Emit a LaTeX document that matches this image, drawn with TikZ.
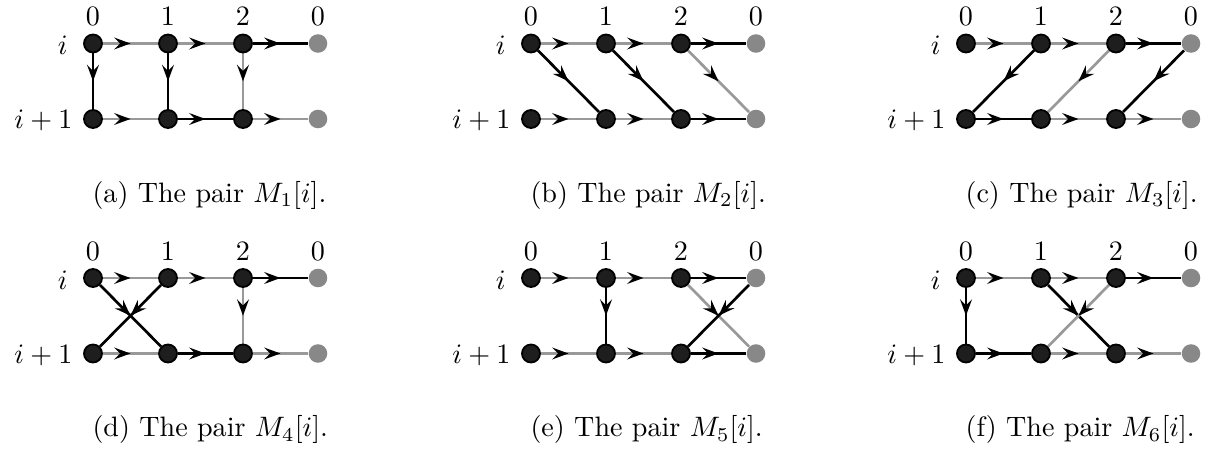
\documentclass[tikz,border=0pt]{standalone}
\usetikzlibrary{arrows.meta,decorations.markings,backgrounds}
\definecolor{edgegray}{HTML}{999999}
\definecolor{nodegray}{HTML}{888888}
\definecolor{nodefill}{HTML}{1E1E1E}
\tikzset{
  x=0.356pt, y=-0.356pt,
  bnode/.style={circle, draw=black, fill=nodefill, line width=0.65pt, inner sep=0pt, minimum size=6.4pt},
  gnode/.style={circle, fill=nodegray, inner sep=0pt, minimum size=6.6pt},
  collab/.style={inner sep=0pt},
  rowlab/.style={inner sep=0pt, anchor=east},
  caplab/.style={inner sep=0pt, anchor=base west},
  midarrow/.style={postaction={decorate, decoration={markings, mark=at position 0.5 with {\arrow{Stealth[length=5.8pt, width=4.2pt, inset=2.1pt, color=black]}}}}},
  bl/.style={draw=black, line width=0.95pt, midarrow},
  gl/.style={draw=edgegray, line width=0.95pt, midarrow},
}
\newcommand\mkpanel[5]{%
  \foreach \k in {0,1,2} {
    \node[bnode] (#1t\k) at ({#2+75*\k}, #3) {};
    \node[bnode] (#1b\k) at ({#2+75*\k}, {#3+75.5}) {};
  }
  \node[gnode] (#1t3) at ({#2+225}, #3) {};
  \node[gnode] (#1b3) at ({#2+225}, {#3+75.5}) {};
  \node[collab] (#1c0) at (#2, {#3-27}) {0};
  \node[collab] (#1c1) at ({#2+75}, {#3-27}) {1};
  \node[collab] (#1c2) at ({#2+150}, {#3-27}) {2};
  \node[collab] (#1c3) at ({#2+225}, {#3-27}) {0};
  \node[rowlab] (#1ri) at ({#2-25}, {#3+2}) {$i$};
  \node[rowlab] (#1rj) at ({#2-20}, {#3+77}) {$i+1$};
  \node[caplab] (#1cap) at ({#2-1}, {#3+159}) {#4 The pair $M_{#5}[i]$.};
}
\begin{document}
\begin{tikzpicture}
\useasboundingbox (0,0) rectangle (1207,450);
\mkpanel{a}{93}{43.5}{(a)}{1}
\mkpanel{b}{531}{43.5}{(b)}{2}
\mkpanel{c}{966}{43.5}{(c)}{3}
\mkpanel{d}{93}{278}{(d)}{4}
\mkpanel{e}{531}{278}{(e)}{5}
\mkpanel{f}{966}{278}{(f)}{6}
\begin{scope}[on background layer]
% (a)
\path[gl] (at0) -- (at1); \path[gl] (at1) -- (at2); \path[bl] (at2) -- (at3);
\path[gl] (ab0) -- (ab1); \path[bl] (ab1) -- (ab2); \path[gl] (ab2) -- (ab3);
\path[bl] (at0) -- (ab0); \path[bl] (at1) -- (ab1); \path[gl] (at2) -- (ab2);
% (b)
\path[gl] (bt0) -- (bt1); \path[gl] (bt1) -- (bt2); \path[bl] (bt2) -- (bt3);
\path[gl] (bb0) -- (bb1); \path[gl] (bb1) -- (bb2); \path[bl] (bb2) -- (bb3);
\path[bl] (bt0) -- (bb1); \path[bl] (bt1) -- (bb2); \path[gl] (bt2) -- (bb3);
% (c)
\path[gl] (ct0) -- (ct1); \path[gl] (ct1) -- (ct2); \path[bl] (ct2) -- (ct3);
\path[bl] (cb0) -- (cb1); \path[gl] (cb1) -- (cb2); \path[gl] (cb2) -- (cb3);
\path[bl] (ct1) -- (cb0); \path[gl] (ct2) -- (cb1); \path[bl] (ct3) -- (cb2);
% (d)
\path[gl] (dt0) -- (dt1); \path[gl] (dt1) -- (dt2); \path[bl] (dt2) -- (dt3);
\path[gl] (db0) -- (db1); \path[bl] (db1) -- (db2); \path[gl] (db2) -- (db3);
\path[bl] (dt0) -- (db1); \path[bl] (dt1) -- (db0); \path[gl] (dt2) -- (db2);
% (e)
\path[gl] (et0) -- (et1); \path[gl] (et1) -- (et2); \path[bl] (et2) -- (et3);
\path[gl] (eb0) -- (eb1); \path[gl] (eb1) -- (eb2); \path[bl] (eb2) -- (eb3);
\path[bl] (et1) -- (eb1); \path[gl] (et2) -- (eb3); \path[bl] (et3) -- (eb2);
% (f)
\path[gl] (ft0) -- (ft1); \path[gl] (ft1) -- (ft2); \path[bl] (ft2) -- (ft3);
\path[bl] (fb0) -- (fb1); \path[gl] (fb1) -- (fb2); \path[gl] (fb2) -- (fb3);
\path[bl] (ft0) -- (fb0); \path[bl] (ft1) -- (fb2); \path[gl] (ft2) -- (fb1);
\end{scope}
\end{tikzpicture}
\end{document}
